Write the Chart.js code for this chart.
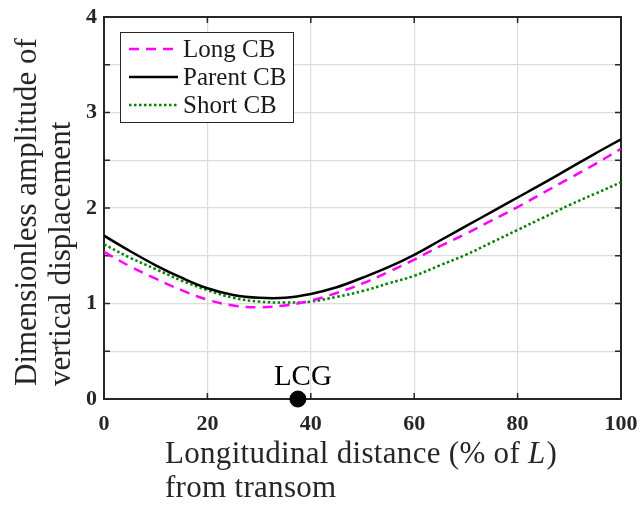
<!DOCTYPE html>
<html>
<head>
<meta charset="utf-8">
<script src="https://cdn.jsdelivr.net/npm/chart.js@4"></script>
<style>
  html, body { margin: 0; padding: 0; background: #fff; }
  #chart { display: block; }
</style>
</head>
<body>
<canvas id="chart" width="643" height="506"></canvas>
<script>
// datos (cada 5 % de L)
const xPos = [0, 5, 10, 15, 20, 25, 30, 35, 40, 45, 50, 55, 60, 65, 70, 75, 80, 85, 90, 95, 100];
const longCB = [1.54, 1.39, 1.26, 1.14, 1.04, 0.98, 0.96, 0.98, 1.03, 1.11, 1.21, 1.33, 1.46, 1.60, 1.73, 1.87, 2.01, 2.16, 2.31, 2.46, 2.62];
const parentCB = [1.71, 1.55, 1.40, 1.27, 1.16, 1.09, 1.06, 1.06, 1.10, 1.17, 1.27, 1.38, 1.51, 1.66, 1.81, 1.96, 2.11, 2.26, 2.415, 2.57, 2.72];
const shortCB = [1.62, 1.48, 1.36, 1.24, 1.14, 1.06, 1.02, 1.01, 1.02, 1.07, 1.13, 1.21, 1.29, 1.40, 1.51, 1.64, 1.77, 1.90, 2.03, 2.15, 2.27];
const lcgX = 37.5;
const xTicks = [0, 20, 40, 60, 80, 100];
const yTicks = [0, 0.5, 1, 1.5, 2, 2.5, 3, 3.5, 4];

const serif = '"Liberation Serif", "Times New Roman", serif';
const axisColor = '#262626';

function pts(ys) {
    return xPos.map((x, i) => ({ x: x, y: ys[i] }));
}

// marco, marcas interiores, titulos, leyenda y etiqueta LCG
const framePlugin = {
    id: 'frame',
    beforeDatasetsDraw(chart) {
        const { ctx, chartArea: a, scales } = chart;
        ctx.save();
        ctx.strokeStyle = axisColor;
        ctx.lineWidth = 2;
        ctx.strokeRect(a.left, a.top, a.right - a.left, a.bottom - a.top);
        ctx.lineWidth = 1.5;
        ctx.beginPath();
        xTicks.forEach(v => {
            const px = scales.x.getPixelForValue(v);
            ctx.moveTo(px, a.bottom); ctx.lineTo(px, a.bottom - 6);
            ctx.moveTo(px, a.top); ctx.lineTo(px, a.top + 6);
        });
        yTicks.forEach(v => {
            const py = scales.y.getPixelForValue(v);
            ctx.moveTo(a.left, py); ctx.lineTo(a.left + 6, py);
            ctx.moveTo(a.right, py); ctx.lineTo(a.right - 6, py);
        });
        ctx.stroke();
        ctx.restore();
    },
    afterDraw(chart) {
        const { ctx, scales } = chart;
        ctx.save();
        ctx.fillStyle = axisColor;
        ctx.textBaseline = 'alphabetic';
        ctx.textAlign = 'left';

        // titulo eje x (dos lineas, alineado a la izquierda)
        ctx.letterSpacing = '0.3px';
        ctx.font = '31px ' + serif;
        let t1 = 'Longitudinal distance (% of ';
        ctx.fillText(t1, 165, 463);
        let w = ctx.measureText(t1).width;
        ctx.font = 'italic 31px ' + serif;
        ctx.fillText('L', 165 + w, 463);
        let wl = ctx.measureText('L').width;
        ctx.font = '31px ' + serif;
        ctx.fillText(')', 165 + w + wl + 1, 463);
        ctx.fillText('from transom', 165, 497);
        ctx.letterSpacing = '0px';

        // titulo eje y
        ctx.save();
        ctx.translate(36, 386);
        ctx.rotate(-Math.PI / 2);
        ctx.fillText('Dimensionless amplitude of', 0, 0);
        ctx.fillText('vertical displacement', 0, 34);
        ctx.restore();

        // etiqueta LCG
        const lx = scales.x.getPixelForValue(lcgX);
        const ly = scales.y.getPixelForValue(0);
        ctx.font = '29px ' + serif;
        ctx.textAlign = 'center';
        ctx.fillStyle = '#000';
        ctx.fillText('LCG', lx + 5, ly - 14);

        // leyenda
        const bx = 120, by = 32, bw = 173, bh = 90;
        ctx.fillStyle = '#fff';
        ctx.fillRect(bx, by, bw, bh);
        ctx.strokeStyle = axisColor;
        ctx.lineWidth = 1;
        ctx.strokeRect(bx + 0.5, by + 0.5, bw, bh);
        ctx.font = '25px ' + serif;
        ctx.textAlign = 'left';
        ctx.textBaseline = 'middle';
        const rows = [49, 77, 105];
        chart.data.datasets.slice(0, 3).forEach((ds, i) => {
            ctx.strokeStyle = ds.borderColor;
            ctx.lineWidth = ds.borderWidth;
            ctx.setLineDash(ds.borderDash || []);
            ctx.beginPath();
            ctx.moveTo(129, rows[i]);
            ctx.lineTo(178, rows[i]);
            ctx.stroke();
            ctx.setLineDash([]);
            ctx.fillStyle = '#1a1a1a';
            ctx.fillText(ds.label, 183, rows[i] + 1);
        });
        ctx.restore();
    }
};

const ctx = document.getElementById('chart').getContext('2d');
const myChart = new Chart(ctx, {
    type: 'line',
    data: {
        datasets: [{
            label: 'Long CB',
            data: pts(longCB),
            borderColor: '#ff00ff',
            borderWidth: 2.5,
            borderDash: [10, 7],
            pointRadius: 0,
            tension: 0.4
        }, {
            label: 'Parent CB',
            data: pts(parentCB),
            borderColor: '#000000',
            borderWidth: 2.5,
            pointRadius: 0,
            tension: 0.4
        }, {
            label: 'Short CB',
            data: pts(shortCB),
            borderColor: '#008000',
            borderWidth: 2.5,
            borderDash: [2.5, 2.5],
            pointRadius: 0,
            tension: 0.4
        }, {
            label: 'LCG',
            data: [{ x: lcgX, y: 0 }],
            showLine: false,
            pointRadius: 8,
            pointBackgroundColor: '#000',
            pointBorderColor: '#000',
            clip: false
        }]
    },
    options: {
        responsive: false,
        animation: false,
        layout: { padding: { left: 0, top: 17, right: 22, bottom: 0 } },
        plugins: {
            legend: { display: false },
            tooltip: { enabled: false }
        },
        scales: {
            x: {
                type: 'linear',
                min: 0,
                max: 100,
                afterBuildTicks: s => { s.ticks = xTicks.map(v => ({ value: v })); },
                afterFit: s => { s.height = 107; s.paddingLeft = 0; s.paddingRight = 0; },
                ticks: {
                    color: axisColor,
                    font: { family: serif, size: 22, weight: 'bold' },
                    padding: 12,
                    maxRotation: 0
                },
                grid: { color: '#dcdcdc', lineWidth: 1.2, drawTicks: false },
                border: { display: false }
            },
            y: {
                min: 0,
                max: 4,
                afterBuildTicks: s => { s.ticks = yTicks.map(v => ({ value: v })); },
                afterFit: s => { s.width = 104; s.paddingTop = 0; s.paddingBottom = 0; },
                ticks: {
                    color: axisColor,
                    font: { family: serif, size: 22, weight: 'bold' },
                    padding: 7,
                    callback: v => Number.isInteger(v) ? v : ''
                },
                grid: { color: '#dcdcdc', lineWidth: 1.2, drawTicks: false },
                border: { display: false }
            }
        }
    },
    plugins: [framePlugin]
});
</script>
</body>
</html>
